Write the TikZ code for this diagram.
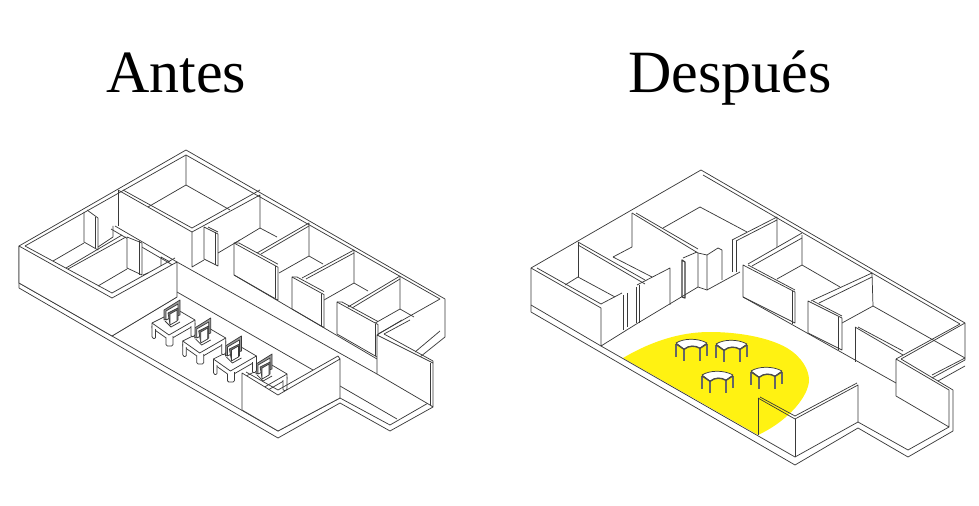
\documentclass[tikz,border=0pt]{standalone}
\usepackage{fontspec}
\setmainfont{Liberation Serif}
\definecolor{planyellow}{HTML}{FFF212}
\definecolor{planline}{HTML}{3A3A3A}
\begin{document}
\begin{tikzpicture}[
    x=0.75pt, y=-0.75pt,
    wall/.style={draw=planline, line width=0.55pt, line join=round},
    solid/.style={wall, fill=white},
    leg/.style={wall, fill=white, rounded corners=1pt},
    title/.style={font=\fontsize{45}{45}\selectfont, text=black, anchor=base},
    desk/.pic={
        % top and apron, then legs, then monitor
        \draw[solid] (0,0) -- (26,-13) -- (43,-3) -- (43,2) -- (17,17) -- (0,5) -- cycle;
        \draw[wall] (0,0) -- (17,12) -- (43,-3);
        \draw[leg] (0,3) -- (0,15) -- (3.5,16) -- (3.5,6);
        \draw[leg] (14,15) -- (14,23) -- (21,23) -- (21,13);
        \draw[leg] (39,3) -- (39,14) -- (43,13) -- (43,0);
        \draw[solid, fill=black!40] (12,-13) -- (28,-23) -- (28,-8) -- (12,-3) -- cycle;
        \draw[solid] (14,-12) -- (26,-19) -- (26,-9) -- (14,-3) -- cycle;
        \draw[solid, fill=black!55] (16,-10) -- (26,-15) -- (26,-3) -- (18,1) -- cycle;
        \draw[solid] (18,-9) -- (25,-13) -- (25,-2) -- (18,2) -- cycle;
        \draw[wall] (13,-2) -- (19,4) -- (28,-1);
    },
    roundtable/.pic={
        % curved top on four legs
        \foreach \a/\b/\c in {0/1/14, 8/6/18, 24/5/18, 31/1/13} {
            \draw[draw=black!60, line width=1.3pt] (\a,\b) -- (\a,\c);
        }
        \draw[solid] (0,0) .. controls (8,-5) and (22,-5) .. (31,0)
            -- (24,5) .. controls (19,2) and (13,2) .. (8,6) -- cycle;
        \draw[draw=black!70, line width=0.8pt] (0,1) -- (8,6.5) .. controls (13,2.5) and (19,2.5) .. (24,5.5) -- (31,1);
    },
]
\useasboundingbox (0,0) rectangle (979,506);

\node[title] (antes) at (176,93) {Antes};
\node[title] (despues) at (730,93) {Después};

%% Antes
% outer shell
\draw[wall] (19,246) -- (186,150) -- (445,299) -- (445,337) -- (420,357);
\draw[wall] (25,246) -- (186,155) -- (440,299) -- (378,334);
\draw[wall] (440,331) -- (415,352);
\draw[wall] (19,246) -- (19,288) -- (278,438) -- (340,403) -- (390,431) -- (433,407);
\draw[wall] (19,283) -- (112,336) -- (177,297);
\draw[wall] (112,336) -- (278,431) -- (340,398) -- (390,425) -- (430,402);
\draw[wall] (340,386) -- (397,419);
% top back room
\draw[wall] (186,155) -- (186,185) -- (148,207);
\draw[wall] (186,185) -- (230,210);
\draw[wall] (118,190) -- (192,232) -- (260,195) -- (260,228) -- (235,243);
\draw[wall] (123,190) -- (192,228) -- (260,190);
\draw[wall] (118,190) -- (118,226);
\draw[wall] (192,232) -- (192,267) -- (204,260);
\draw[wall] (260,228) -- (277,237);
% doors along the corridor
\draw[solid] (204,227) -- (218,234) -- (218,266) -- (204,259) -- cycle;
\draw[wall] (215,232) -- (215,265);
\draw[wall] (208,227) -- (218,232);
\draw[wall] (218,253) -- (240,240);
\foreach \x/\y/\lx/\ly in {309/223/257/253, 354/250/302/278, 400/276/348/307} {
    \draw[wall] (\x,\y) -- (\lx,\ly);
    \draw[wall] (\x,\y+3) -- (\lx+4,\ly+1);
    \draw[wall] (\x,\y) -- (\x,\y+33) -- (\x-30,\y+50);
    \draw[wall] (\x,\y+33) -- (\x+14,\y+41);
}
\foreach \x/\y/\w in {234/243/44, 292/277/32, 337/302/41} {
    \draw[solid] (\x,\y) -- (\x+\w,{\y+0.55*\w}) -- (\x+\w,{\y+0.55*\w+33}) -- (\x,\y+32) -- cycle;
    \draw[wall] (\x+\w-3,{\y+0.55*\w-1}) -- (\x+\w-3,{\y+0.55*\w+31});
    \draw[wall] (\x,\y) -- (\x+5,\y) -- (\x+\w,{\y+0.55*\w-3});
}
% corridor floor lines
\draw[wall] (234,275) -- (377,359);
\draw[wall] (177,262) -- (377,374);
\draw[wall] (177,292) -- (313,370);
% left rooms
\draw[wall] (87,210) -- (98,218) -- (98,250) -- (84,242) -- (84,212);
\draw[wall] (95,217) -- (95,248);
\draw[wall] (84,243) -- (53,261);
\draw[wall] (98,247) -- (113,237) -- (113,226);
\draw[wall] (111,229) -- (176,267);
\draw[wall] (115,226) -- (177,262);
\draw[wall] (68,269) -- (126,237);
\draw[wall] (66,268) -- (122,235);
\draw[solid] (127,237) -- (142,243) -- (142,275) -- (127,268) -- cycle;
\draw[wall] (139,241) -- (139,275);
\draw[wall] (127,269) -- (98,286);
\draw[wall] (143,275) -- (148,273);
\draw[wall] (161,266) -- (161,257) -- (170,262);
% desks
\foreach \i in {3,2,1,0} {
    \pic at ({152+\i*30.7},{323+\i*18}) {desk};
}
% walls in front
\draw[solid] (19,246) -- (112,298) -- (177,262) -- (177,297) -- (112,336) -- (19,283) -- cycle;
\draw[wall] (25,246) -- (112,293) -- (175,258);
\draw[solid] (242,373) -- (278,395) -- (340,359) -- (340,398) -- (278,431) -- (242,410) -- cycle;
\draw[wall] (246,372) -- (278,390) -- (338,356) -- (340,359);
\draw[solid] (377,335) -- (433,363) -- (433,407) -- (430,405) -- (377,374) -- cycle;
\draw[wall] (384,334) -- (433,361) -- (433,363);
\draw[wall] (430,363) -- (430,405);
\draw[wall] (377,335) -- (402,320);
\draw[wall] (384,334) -- (410,320);

%% Despues
\fill[planyellow] (623,358) .. controls (645,345) and (675,332) .. (710,332)
    .. controls (740,332) and (770,338) .. (787,348)
    .. controls (802,357) and (809,370) .. (809,380)
    .. controls (809,395) and (790,420) .. (758,435) -- cycle;
% outer shell
\draw[wall] (531,268) -- (701,170) -- (965,323) -- (965,360) -- (932,378);
\draw[wall] (578,242) -- (578,277);
\draw[wall] (703,175) -- (960,324);
\draw[wall] (531,268) -- (531,312) -- (795,465) -- (858,428) -- (908,457) -- (953,431);
\draw[wall] (531,305) -- (601,346) -- (795,457) -- (858,422) -- (908,450) -- (949,427);
\draw[wall] (531,268) -- (601,308);
\draw[wall] (537,268) -- (601,304) -- (622,293);
\draw[wall] (601,308) -- (601,346) -- (638,323) -- (698,287);
\draw[wall] (578,277) -- (565,285);
\draw[wall] (578,277) -- (615,297);
\draw[wall] (578,242) -- (645,280);
\draw[wall] (578,245) -- (645,284);
\draw[wall] (623,295) -- (623,330);
\draw[wall] (627,293) -- (627,327);
% back room and partitions
\draw[wall] (632,213) -- (698,253) -- (698,287) -- (707,290);
\draw[wall] (636,213) -- (698,249);
\draw[wall] (632,213) -- (632,247) -- (613,257);
\draw[wall] (613,257) -- (652,277);
\draw[wall] (636,287) -- (636,323);
\draw[wall] (639,285) -- (639,323);
\draw[wall] (637,285) -- (670,268) -- (670,305);
\draw[wall] (683,258) -- (697,252);
\draw[wall, line width=0.9pt] (682,260) -- (682,297) -- (685,298) -- (685,262) -- cycle;
\draw[wall] (707,255) -- (707,290) -- (740,272);
\draw[wall] (698,253) -- (707,255) -- (718,248) -- (722,250) -- (722,280);
\draw[wall] (700,207) -- (663,228);
\draw[wall] (700,207) -- (747,232);
\draw[wall] (732,240) -- (777,217) -- (777,247);
\draw[wall] (736,241) -- (777,220);
\draw[wall] (732,240) -- (732,272);
\draw[wall] (736,241) -- (736,272);
\draw[wall] (802,235) -- (802,265) -- (777,279);
\draw[wall] (802,265) -- (840,287);
\draw[wall] (748,264) -- (802,233);
\draw[wall] (752,266) -- (802,238);
\draw[solid] (743,265) -- (795,292) -- (795,323) -- (743,297) -- cycle;
\draw[wall] (792,291) -- (792,324);
\draw[wall] (748,265) -- (795,290);
\draw[wall] (811,301) -- (872,273) -- (873,306) -- (842,323);
\draw[wall] (819,303) -- (872,277);
\draw[wall] (873,306) -- (965,358);
\draw[solid] (808,301) -- (842,318) -- (842,350) -- (808,333) -- cycle;
\draw[wall] (838,317) -- (838,350);
\draw[wall] (813,301) -- (842,316);
\draw[wall] (855,327) -- (903,355);
\draw[wall] (858,327) -- (903,351);
\draw[wall] (855,327) -- (855,362);
\draw[wall] (743,297) -- (896,383);
% tables
\foreach \x/\y in {676/343, 716/344, 702/375, 751/371} {
    \pic at (\x,\y) {roundtable};
}
% walls in front
\draw[wall] (758,398) -- (795,419) -- (858,385) -- (858,422);
\draw[wall] (760,397) -- (795,416) -- (857,383);
\draw[wall] (758,398) -- (758,435);
\draw[wall] (795,419) -- (795,457);
\draw[wall] (896,359) -- (896,396) -- (949,427) -- (949,390) -- (896,359);
\draw[wall] (896,359) -- (960,324);
\draw[wall] (901,359) -- (965,323);
\draw[wall] (901,359) -- (953,390) -- (953,431);
\draw[wall] (932,375) -- (965,358);
\draw[wall] (938,381) -- (965,366);
\end{tikzpicture}
\end{document}
